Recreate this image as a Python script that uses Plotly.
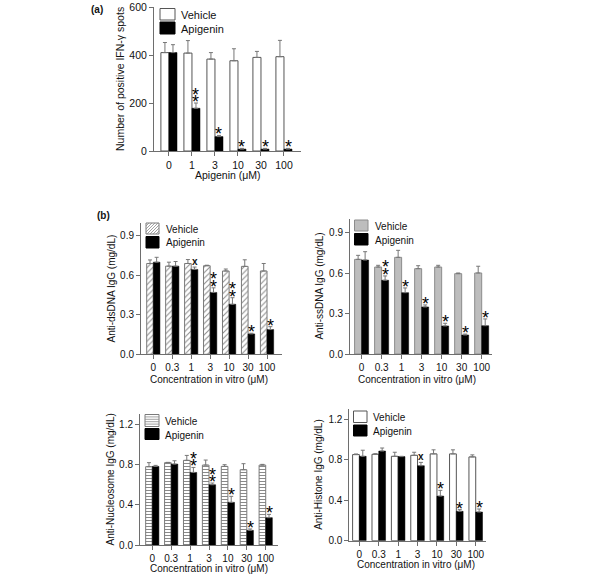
import plotly.graph_objects as go

# ---------------- data ----------------
a_cats = ["0", "1", "3", "10", "30", "100"]
a_veh = [410, 408, 383, 376, 390, 393]
a_veh_err = [42, 52, 27, 50, 25, 68]
a_api = [410, 178, 60, 8, 8, 8]
a_api_err = [33, 22, 5, 3, 3, 3]
a_sig = ["", "**", "*", "*", "*", "*"]

b_cats = ["0", "0.3", "1", "3", "10", "30", "100"]

ds_veh = [0.69, 0.67, 0.69, 0.673, 0.633, 0.668, 0.633]
ds_veh_err = [0.027, 0.03, 0.03, 0.004, 0.015, 0.05, 0.057]
ds_api = [0.70, 0.67, 0.645, 0.47, 0.38, 0.155, 0.188]
ds_api_err = [0.037, 0.035, 0.018, 0.035, 0.05, 0.005, 0.022]
ds_sig = ["", "", "x", "**", "**", "*", "*"]

ss_veh = [0.702, 0.645, 0.717, 0.633, 0.645, 0.596, 0.601]
ss_veh_err = [0.03, 0.013, 0.052, 0.022, 0.013, 0.005, 0.05]
ss_api = [0.697, 0.547, 0.455, 0.349, 0.208, 0.141, 0.21]
ss_api_err = [0.062, 0.032, 0.035, 0.015, 0.02, 0.007, 0.05]
ss_sig = ["", "**", "*", "*", "*", "*", "*"]

nuc_veh = [0.777, 0.817, 0.84, 0.793, 0.78, 0.747, 0.793]
nuc_veh_err = [0.04, 0.003, 0.049, 0.05, 0.017, 0.06, 0.007]
nuc_api = [0.78, 0.803, 0.72, 0.598, 0.423, 0.145, 0.271]
nuc_api_err = [0.01, 0.033, 0.05, 0.017, 0.06, 0.014, 0.033]
nuc_sig = ["", "", "**", "**", "*", "*", "*"]

his_veh = [0.85, 0.853, 0.833, 0.843, 0.857, 0.857, 0.827]
his_veh_err = [0.006, 0.006, 0.04, 0.03, 0.04, 0.04, 0.02]
his_api = [0.833, 0.885, 0.83, 0.74, 0.44, 0.29, 0.283]
his_api_err = [0.06, 0.03, 0.003, 0.033, 0.057, 0.017, 0.03]
his_sig = ["", "", "", "x", "*", "*", "*"]

series_names = ["Vehicle", "Apigenin"]

# ---------------- layout (page pixels) ----------------
W, H = 600, 577


def PX(x):
    return x / W


def PY(y):
    return 1 - y / H


def clamp(v):
    return min(1.0, max(0.0, v))


FONT = "Liberation Sans, Arial, sans-serif"
AX = "#6e6e6e"
HATCH = "#8a8a8a"

# leg: (swatch x0, x1, vehicle y0, y1, apigenin y0, y1, text x, vehicle text y, apigenin text y)
panels = [
    dict(cats=a_cats, veh=a_veh, veh_err=a_veh_err, api=a_api, api_err=a_api_err, sig=a_sig,
         xpx=(154, 301), ypx=(7, 151), yr=(0, 600), dtick=200, tfmt=None, xr=(-0.65, 5.74),
         ytitle="Number of positive IFN-γ spots", ytx=120, xtitle="Apigenin (μM)", xtx=228, xty=175,
         leg=(160, 175, 8.5, 20, 22, 34, 179, 15, 29), fs=10.5, lfs=11, vstyle="white"),
    dict(cats=b_cats, veh=ds_veh, veh_err=ds_veh_err, api=ds_api, api_err=ds_api_err, sig=ds_sig,
         xpx=(141, 282), ypx=(222.7, 354.3), yr=(0, 1.0), dtick=0.3, tfmt=".1f", xr=(-0.65, 6.79),
         ytitle="Anti-dsDNA IgG (mg/dL)", ytx=111, xtitle="Concentration in vitro (μM)", xtx=209, xty=379,
         leg=(146, 159, 223, 234, 236.5, 248, 164, 229, 242.5), fs=10, lfs=10, vstyle="diag"),
    dict(cats=b_cats, veh=ss_veh, veh_err=ss_veh_err, api=ss_api, api_err=ss_api_err, sig=ss_sig,
         xpx=(350, 491.7), ypx=(219.2, 354), yr=(0, 1.0), dtick=0.3, tfmt=".1f", xr=(-0.58, 6.5),
         ytitle="Anti-ssDNA IgG (mg/dL)", ytx=320, xtitle="Concentration in vitro (μM)", xtx=417, xty=379,
         leg=(354.5, 368, 220, 231, 233.5, 245, 372.5, 226.5, 240.5), fs=10, lfs=10, vstyle="gray"),
    dict(cats=b_cats, veh=nuc_veh, veh_err=nuc_veh_err, api=nuc_api, api_err=nuc_api_err, sig=nuc_sig,
         xpx=(140, 278), ypx=(414, 545), yr=(0, 1.3), dtick=0.4, tfmt=".1f", xr=(-0.65, 6.65),
         ytitle="Anti-Nucleosome IgG (mg/dL)", ytx=110, xtitle="Concentration in vitro (μM)", xtx=209, xty=568,
         leg=(145, 159, 414.5, 426.5, 428.5, 439.5, 163, 421.5, 435), fs=10, lfs=10, vstyle="horiz"),
    dict(cats=b_cats, veh=his_veh, veh_err=his_veh_err, api=his_api, api_err=his_api_err, sig=his_sig,
         xpx=(349.3, 486), ypx=(409, 540.7), yr=(0, 1.3), dtick=0.4, tfmt=".1f", xr=(-0.52, 6.53),
         ytitle="Anti-Histone IgG (mg/dL)", ytx=319, xtitle="Concentration in vitro (μM)", xtx=416, xty=564,
         leg=(353.5, 367, 411, 422.5, 425, 436, 371, 417.5, 431), fs=10, lfs=10, vstyle="white"),
]


def vehicle_marker(style):
    if style == "white":
        return dict(color="white", line=dict(color="#555555", width=1))
    if style == "gray":
        return dict(color="#bdbdbd", line=dict(color="#8c8c8c", width=1))
    if style == "diag":
        return dict(color="white", line=dict(color="#7a7a7a", width=1),
                    pattern=dict(shape="/", fgcolor=HATCH, bgcolor="white", size=4,
                                 solidity=0.25, fillmode="replace"))
    return dict(color="white", line=dict(color="#7a7a7a", width=1),
                pattern=dict(shape="-", fgcolor=HATCH, bgcolor="white", size=3,
                             solidity=0.35, fillmode="replace"))


def swatch_shapes(x0, x1, y0, y1, style):
    """Legend key box (page pixel coordinates) for a given fill style."""
    out = []
    fill = {"white": "white", "gray": "#bdbdbd", "diag": "white", "horiz": "white", "black": "black"}[style]
    edge = {"white": "#555555", "gray": "#8c8c8c", "diag": "#7a7a7a", "horiz": "#7a7a7a", "black": "black"}[style]
    out.append(dict(type="rect", xref="paper", yref="paper",
                    x0=PX(x0), x1=PX(x1), y0=PY(y1), y1=PY(y0),
                    fillcolor=fill, line=dict(color=edge, width=1), layer="above"))
    segs = []
    if style == "diag":
        s = 3.0
        c = x0 + y0 + s
        while c < x1 + y1:
            xa = max(x0, c - y1)
            xb = min(x1, c - y0)
            if xb > xa:
                segs.append(((xa, c - xa), (xb, c - xb)))
            c += s
    elif style == "horiz":
        s = 2.4
        y = y0 + s
        while y < y1 - 0.5:
            segs.append(((x0, y), (x1, y)))
            y += s
    if segs:
        path = " ".join(f"M{PX(a[0]):.5f},{PY(a[1]):.5f} L{PX(b[0]):.5f},{PY(b[1]):.5f}" for a, b in segs)
        out.append(dict(type="path", xref="paper", yref="paper", path=path,
                        line=dict(color=HATCH, width=0.8), layer="above"))
    return out


fig = go.Figure()
annotations = []
shapes = []
layout = dict(
    width=W, height=H, margin=dict(l=0, r=0, t=0, b=0), autosize=False,
    paper_bgcolor="white", plot_bgcolor="white",
    font=dict(family=FONT, size=10, color="#111111"),
    barmode="group", bargap=0.3, bargroupgap=0.0, showlegend=False,
)

for i, p in enumerate(panels):
    n = i + 1
    xk = "xaxis" if n == 1 else f"xaxis{n}"
    yk = "yaxis" if n == 1 else f"yaxis{n}"
    xr = "x" if n == 1 else f"x{n}"
    yr = "y" if n == 1 else f"y{n}"
    xs = list(range(len(p["cats"])))

    fig.add_trace(go.Bar(
        x=xs, y=p["veh"], name=series_names[0], xaxis=xr, yaxis=yr, showlegend=False,
        offsetgroup=f"v{n}", marker=vehicle_marker(p["vstyle"]),
        error_y=dict(type="data", array=p["veh_err"], arrayminus=[0] * len(xs),
                     symmetric=False, color="#777777", thickness=1, width=2),
    ))
    fig.add_trace(go.Bar(
        x=xs, y=p["api"], name=series_names[1], xaxis=xr, yaxis=yr, showlegend=False,
        offsetgroup=f"a{n}", marker=dict(color="black", line=dict(color="black", width=0.5)),
        error_y=dict(type="data", array=p["api_err"], arrayminus=[0] * len(xs),
                     symmetric=False, color="#777777", thickness=1, width=2),
    ))

    x0, x1 = p["xpx"]
    yt, yb = p["ypx"]
    layout[xk] = dict(
        domain=[clamp(PX(x0)), clamp(PX(x1))], range=list(p["xr"]), anchor=yr,
        tickmode="array", tickvals=xs, ticktext=p["cats"],
        showline=True, linecolor=AX, linewidth=1, ticks="outside", ticklen=4,
        tickcolor=AX, tickfont=dict(size=p["fs"], family=FONT, color="#111"),
        showgrid=False, zeroline=False, fixedrange=True, automargin=False,
    )
    layout[yk] = dict(
        domain=[clamp(PY(yb)), clamp(PY(yt))], range=list(p["yr"]), anchor=xr,
        dtick=p["dtick"], tick0=0, tickformat=p["tfmt"],
        showline=True, linecolor=AX, linewidth=1, ticks="outside", ticklen=4,
        tickcolor=AX, tickfont=dict(size=p["fs"], family=FONT, color="#111"),
        showgrid=False, zeroline=False, fixedrange=True, automargin=False,
    )

    # legend keys + labels
    sx0, sx1, vy0, vy1, ay0, ay1, tx, vty, aty = p["leg"]
    shapes += swatch_shapes(sx0, sx1, vy0, vy1, p["vstyle"])
    shapes += swatch_shapes(sx0, sx1, ay0, ay1, "black")
    for name, ty in zip(series_names, (vty, aty)):
        annotations.append(dict(
            text=name, xref="paper", yref="paper", x=PX(tx), y=PY(ty), showarrow=False,
            xanchor="left", yanchor="middle", font=dict(size=p["lfs"], family=FONT, color="#111"),
        ))

    # axis titles
    annotations.append(dict(
        text=p["ytitle"], textangle=-90, xref="paper", yref="paper",
        x=PX(p["ytx"]), y=PY((yt + yb) / 2), showarrow=False,
        xanchor="center", yanchor="middle", font=dict(size=p["fs"], family=FONT, color="#111"),
    ))
    annotations.append(dict(
        text=p["xtitle"], xref="paper", yref="paper",
        x=PX(p["xtx"]), y=PY(p["xty"]), showarrow=False,
        xanchor="center", yanchor="middle", font=dict(size=p["fs"], family=FONT, color="#111"),
    ))

    # significance marks above Apigenin bars
    for k, s in enumerate(p["sig"]):
        if not s:
            continue
        top = p["api"][k] + p["api_err"][k]
        if s == "x":
            annotations.append(dict(
                text="<b>x</b>", x=k + 0.175, y=top, xref=xr, yref=yr, showarrow=False,
                xanchor="center", yanchor="bottom", yshift=-2,
                font=dict(size=10, family=FONT, color="#111"),
            ))
        else:
            for j in range(len(s)):
                annotations.append(dict(
                    text="*", x=k + 0.175, y=top, xref=xr, yref=yr, showarrow=False,
                    xanchor="center", yanchor="bottom", yshift=-11 + 7.5 * j,
                    font=dict(size=18, family=FONT, color="#000"),
                ))

annotations.append(dict(text="<b>(a)</b>", xref="paper", yref="paper", x=PX(97), y=PY(10),
                        showarrow=False, xanchor="center", yanchor="middle",
                        font=dict(size=10, family=FONT, color="#111")))
annotations.append(dict(text="<b>(b)</b>", xref="paper", yref="paper", x=PX(103), y=PY(216),
                        showarrow=False, xanchor="center", yanchor="middle",
                        font=dict(size=10, family=FONT, color="#111")))

layout["annotations"] = annotations
layout["shapes"] = shapes
fig.update_layout(**layout)
# remove the browser's default 8px body margin so the figure sits at the page origin
fig.write_html("out.html", config={"displayModeBar": False, "staticPlot": True},
               post_script="document.body.style.margin='0px';")
